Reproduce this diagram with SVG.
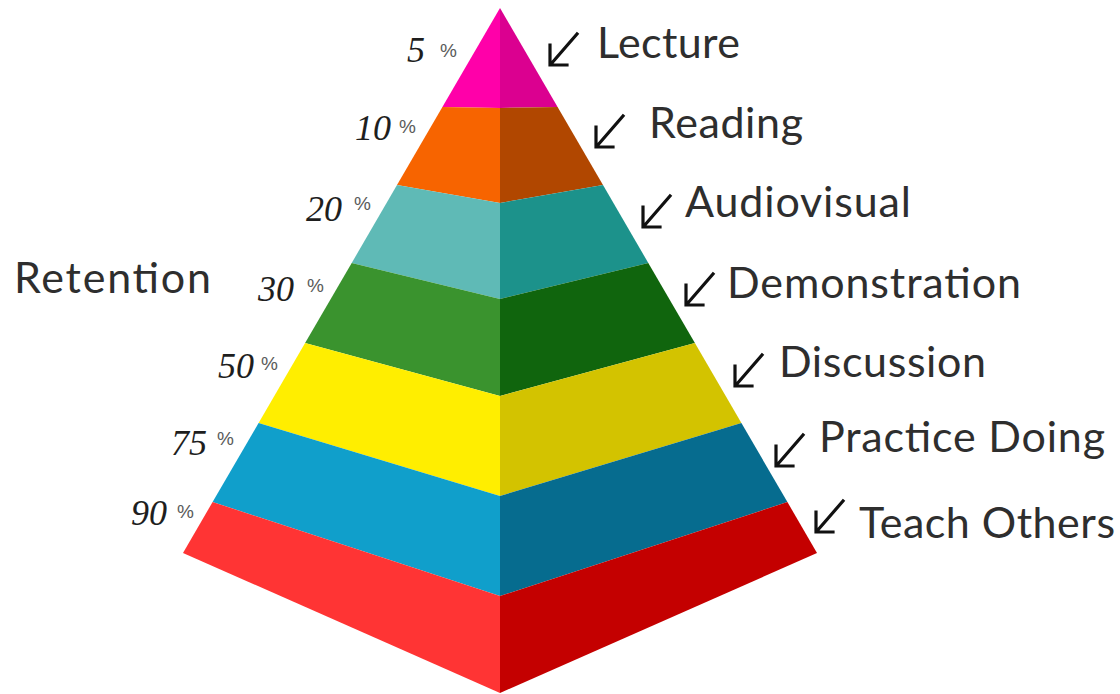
<svg xmlns="http://www.w3.org/2000/svg" width="1120" height="694" viewBox="0 0 1120 694">
<style>
.lbl{font-family:Lato,"Noto Sans","Liberation Sans",sans-serif;font-size:43px;fill:#2e2e2e}
.pct{font-family:"Liberation Serif","DejaVu Serif",serif;font-style:italic;font-size:36px;fill:#1e1e1e}
.pc{font-family:"Liberation Sans",sans-serif;font-size:19px;fill:#5a5a5a}
.arr{fill:none;stroke:#111;stroke-width:3.2;stroke-linecap:square}
</style>
<defs>
<path id="ptr" d="M 27 -31 L 1 -1 M 0 -20 L 0 0 L 17 0"/>
</defs>
<rect width="1120" height="694" fill="#fff"/>
<g id="band-lecture">
<polygon points="500,8 442.4,107 500,108" fill="#FF00A9"/>
<polygon points="500,8 557.6,107 500,108" fill="#DB0090"/>
</g>
<g id="band-reading">
<polygon points="442.4,107 500,108 500,203 397,185" fill="#F76400"/>
<polygon points="557.6,107 500,108 500,203 603,185" fill="#B14700"/>
</g>
<g id="band-audiovisual">
<polygon points="397,185 500,203 500,299 351.7,263" fill="#5FBAB6"/>
<polygon points="603,185 500,203 500,299 648.3,263" fill="#1C928B"/>
</g>
<g id="band-demonstration">
<polygon points="351.7,263 500,299 500,396 305.1,343" fill="#3A932E"/>
<polygon points="648.3,263 500,299 500,396 694.9,343" fill="#10650D"/>
</g>
<g id="band-discussion">
<polygon points="305.1,343 500,396 500,496 258.6,423" fill="#FFEE00"/>
<polygon points="694.9,343 500,396 500,496 741.4,423" fill="#D3C300"/>
</g>
<g id="band-practice">
<polygon points="258.6,423 500,496 500,596 212.6,502" fill="#109FCB"/>
<polygon points="741.4,423 500,496 500,596 787.4,502" fill="#066C8F"/>
</g>
<g id="band-teach">
<polygon points="212.6,502 500,596 500,693 183,553" fill="#FF3434"/>
<polygon points="787.4,502 500,596 500,693 817,553" fill="#C40000"/>
</g>
<g id="connectors">
<use href="#ptr" class="arr" x="550" y="65"/>
<use href="#ptr" class="arr" x="596" y="147"/>
<use href="#ptr" class="arr" x="643" y="227"/>
<use href="#ptr" class="arr" x="686" y="305"/>
<use href="#ptr" class="arr" x="735" y="386"/>
<use href="#ptr" class="arr" x="776" y="466"/>
<use href="#ptr" class="arr" x="816" y="532"/>
</g>
<g id="label-lecture"><text class="lbl" x="597" y="58" textLength="143">Lecture</text></g>
<g id="label-reading"><text class="lbl" x="649" y="138" textLength="154">Reading</text></g>
<g id="label-audiovisual"><text class="lbl" x="685" y="217" textLength="226">Audiovisual</text></g>
<g id="label-demonstration"><text class="lbl" x="727" y="298" textLength="294">Demonstration</text></g>
<g id="label-discussion"><text class="lbl" x="779" y="377" textLength="207">Discussion</text></g>
<g id="label-practice"><text class="lbl" x="819" y="452" textLength="286">Practice Doing</text></g>
<g id="label-teach"><text class="lbl" x="859" y="538" textLength="256">Teach Others</text></g>
<g id="label-retention"><text class="lbl" x="14" y="293" textLength="197">Retention</text></g>
<g id="pct-5"><text class="pct" x="407" y="62">5</text><text class="pc" x="440" y="57">%</text></g>
<g id="pct-10"><text class="pct" x="355" y="140">10</text><text class="pc" x="399" y="133">%</text></g>
<g id="pct-20"><text class="pct" x="306" y="221">20</text><text class="pc" x="354" y="210">%</text></g>
<g id="pct-30"><text class="pct" x="258" y="301">30</text><text class="pc" x="307" y="292">%</text></g>
<g id="pct-50"><text class="pct" x="218" y="378">50</text><text class="pc" x="261" y="370">%</text></g>
<g id="pct-75"><text class="pct" x="171" y="455">75</text><text class="pc" x="217" y="445">%</text></g>
<g id="pct-90"><text class="pct" x="131" y="525">90</text><text class="pc" x="177" y="518">%</text></g>
</svg>
